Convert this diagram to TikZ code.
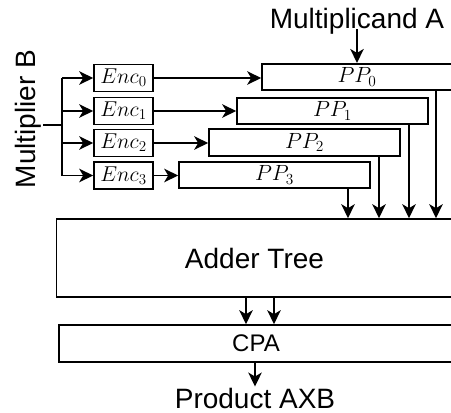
\RequirePackage{fix-cm}
\documentclass[tikz,border=0pt]{standalone}
\usepackage{fontspec}
\setmainfont{Liberation Sans}
\usetikzlibrary{arrows.meta}
\tikzset{
  blk/.style={draw, line width=1.6pt, inner sep=0pt, fill=white},
  encbox/.style={blk, minimum width=59pt, minimum height=27pt, font=\fontsize{21.5}{25}\selectfont},
  ppbox/.style={blk, minimum width=191pt, minimum height=26.5pt, font=\fontsize{22}{26}\selectfont},
  lbl/.style={inner sep=0pt, font=\fontsize{28}{32}\selectfont},
  wire/.style={line width=1.6pt},
  arr/.style={wire, -{Stealth[length=14pt,width=13.5pt,inset=4pt]}}
}
\begin{document}
\begin{tikzpicture}[x=1pt,y=-1pt]
\useasboundingbox (0,0) rectangle (451,413);
\clip (0,0) rectangle (451,413);
% labels
\node[lbl] (ma) at (357,21) {Multiplicand A};
\node[lbl, rotate=90] (mb) at (28,119) {Multiplier B};
% encoders
\node[encbox] (enc0) at (123.5,78) {$Enc_0$};
\node[encbox] (enc1) at (123.5,111) {$Enc_1$};
\node[encbox] (enc2) at (123.5,143) {$Enc_2$};
\node[encbox] (enc3) at (123.5,175.5) {$Enc_3$};
% partial products
\node[ppbox, minimum width=190pt] (pp0) at (357,77) {$PP_0$};
\node[ppbox] (pp1) at (332.5,111) {$PP_1$};
\node[ppbox] (pp2) at (304.5,142.5) {$PP_2$};
\node[ppbox] (pp3) at (274.5,175) {$PP_3$};
% adder tree, CPA, output
\node[blk, minimum width=396pt, minimum height=78pt, font=\fontsize{28}{32}\selectfont] (adder) at (254.5,258) {Adder Tree};
\node[blk, minimum width=394pt, minimum height=37pt, font=\fontsize{24}{28}\selectfont] (cpa) at (256,343.5) {CPA};
\node[lbl, inner sep=1.5pt] (out) at (255,398.5) {Product AXB};
% helper coordinates
\coordinate (tv) at (62,0);
\coordinate (stub) at (43,125);
\coordinate (d3) at (348,0);
\coordinate (d2) at (379,0);
\coordinate (d1) at (409,0);
\coordinate (d0) at (436,0);
\coordinate (c1) at (246,0);
\coordinate (c2) at (274,0);
% multiplicand
\draw[arr] ([yshift=-1pt]ma.base) -- (pp0.north);
% multiplier fan-out
\draw[wire] (stub) -- (tv |- stub);
\draw[wire] (tv |- enc0.west) -- (tv |- enc3.west);
\foreach \e in {enc0,enc1,enc2,enc3}{
  \draw[arr] (tv |- \e.west) -- (\e.west);
}
% encoder to partial products
\draw[arr] (enc0.east) -- (enc0.east -| pp0.west);
\draw[arr] (enc1.east) -- (enc1.east -| pp1.west);
\draw[arr] (enc2.east) -- (enc2.east -| pp2.west);
\draw[arr] (enc3.east) -- (enc3.east -| pp3.west);
% partial products to adder tree
\draw[arr] (pp3.south -| d3) -- (adder.north -| d3);
\draw[arr] (pp2.south -| d2) -- (adder.north -| d2);
\draw[arr] (pp1.south -| d1) -- (adder.north -| d1);
\draw[arr] (pp0.south -| d0) -- (adder.north -| d0);
% adder tree to CPA
\draw[arr] (adder.south -| c1) -- (cpa.north -| c1);
\draw[arr] (adder.south -| c2) -- (cpa.north -| c2);
% CPA to output
\draw[arr] (cpa.south -| out) -- (out.north);
\end{tikzpicture}
\end{document}
